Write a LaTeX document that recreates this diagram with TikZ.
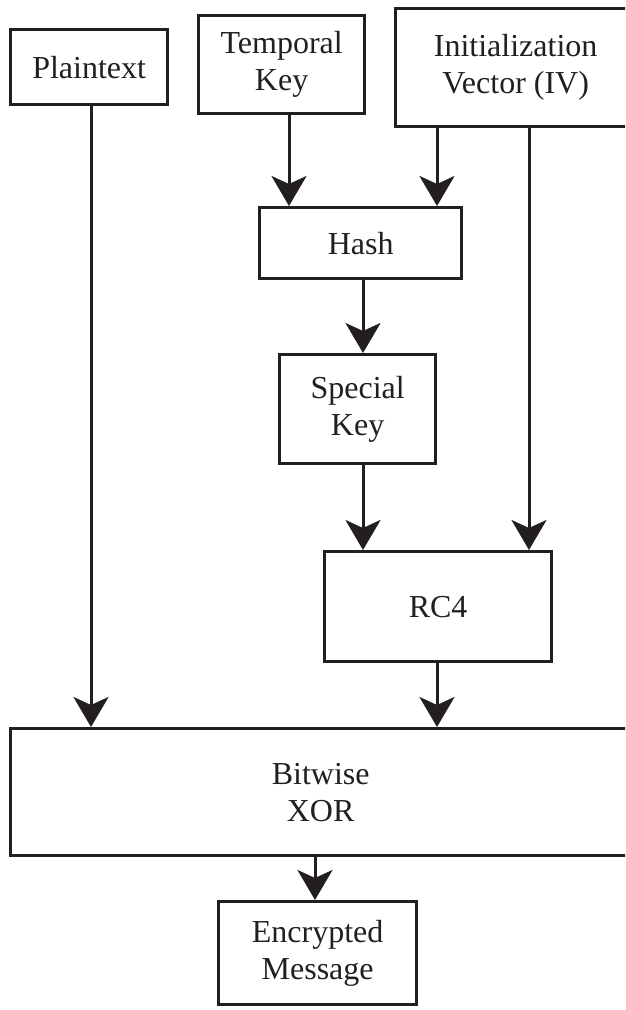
\documentclass[tikz,border=0pt]{standalone}
\usepackage{fontspec}
\setmainfont{Liberation Serif}
\usetikzlibrary{arrows.meta}
\definecolor{ink}{RGB}{35,31,32}
\begin{document}
\begin{tikzpicture}[x=1pt,y=-1pt,
  box/.style={draw=ink, line width=3.3pt, inner sep=0pt, anchor=north west, align=center,
    font=\fontsize{32}{37}\selectfont, text=ink},
  arr/.style={draw=ink, line width=3pt, -{Stealth[length=30pt,width=35pt,inset=8pt]}}]
\useasboundingbox (0,0) rectangle (625,1010);
\clip (0,0) rectangle (625,1010);
\fill[white] (0,0) rectangle (625,1010);
\node[box, minimum width=157pt, minimum height=75pt] (pt) at (9,28) {Plaintext};
\node[box, minimum width=166pt, minimum height=98pt] (tk) at (197,14) {Temporal\\Key};
\node[box, minimum width=240pt, minimum height=118pt] (iv) at (394,7) {Initialization\\Vector (IV)};
\node[box, minimum width=202pt, minimum height=71pt] (hash) at (258,206) {Hash};
\node[box, minimum width=156pt, minimum height=109pt] (sk) at (278,353) {Special\\Key};
\node[box, minimum width=227pt, minimum height=110pt] (rc4) at (323,550) {RC4};
\node[box, minimum width=620pt, minimum height=127pt] (xor) at (9,727) {Bitwise\\XOR};
\node[box, minimum width=198pt, minimum height=103pt] (enc) at (217,900) {Encrypted\\Message};
\draw[arr] (91,0 |- pt.south) -- (91,0 |- xor.north);
\draw[arr] (289,0 |- tk.south) -- (289,0 |- hash.north);
\draw[arr] (437,0 |- iv.south) -- (437,0 |- hash.north);
\draw[arr] (529,0 |- iv.south) -- (529,0 |- rc4.north);
\draw[arr] (363,0 |- hash.south) -- (363,0 |- sk.north);
\draw[arr] (363,0 |- sk.south) -- (363,0 |- rc4.north);
\draw[arr] (437,0 |- rc4.south) -- (437,0 |- xor.north);
\draw[arr] (315,0 |- xor.south) -- (315,0 |- enc.north);
\end{tikzpicture}
\end{document}
